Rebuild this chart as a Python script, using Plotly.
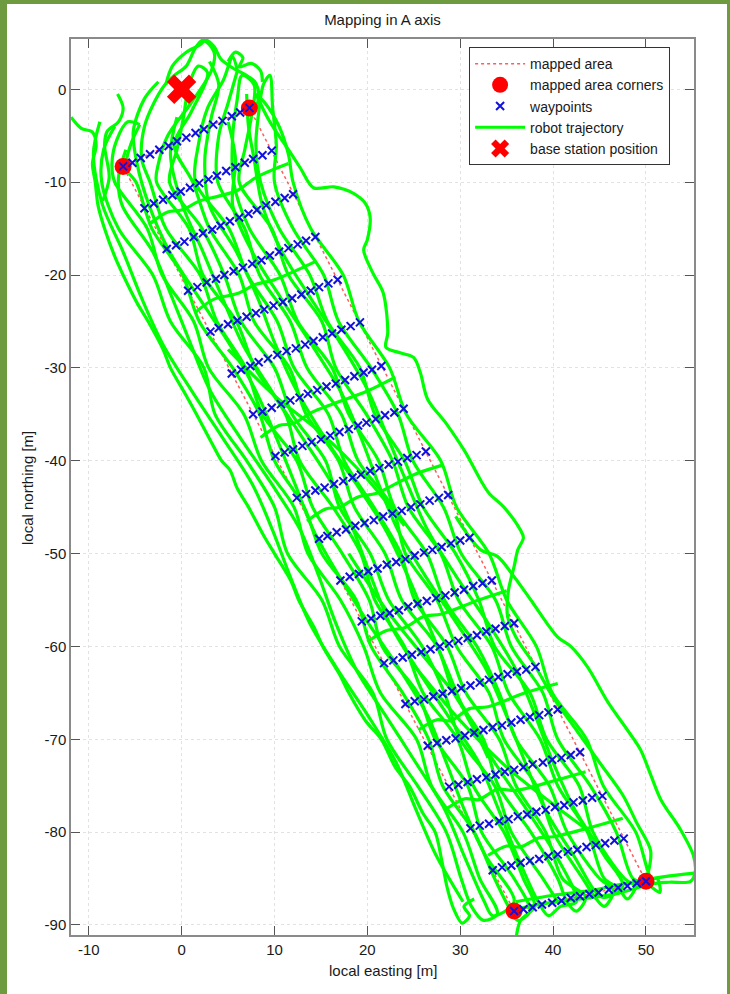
import plotly.graph_objects as go

TITLE = "Mapping in A axis"
X_LABEL = "local easting [m]"
Y_LABEL = "local northing [m]"
LEGEND_NAMES = ["mapped area", "mapped area corners", "waypoints",
                "robot trajectory", "base station position"]

x_tick_vals = [-10, 0, 10, 20, 30, 40, 50]
x_tick_text = ["-10", "0", "10", "20", "30", "40", "50"]
y_tick_vals = [0, -10, -20, -30, -40, -50, -60, -70, -80, -90]
y_tick_text = ["0", "-10", "-20", "-30", "-40", "-50", "-60", "-70", "-80", "-90"]

# mapped area corners (local easting, local northing)
corner_x = [-6.3, 7.3, 50.0, 35.8]
corner_y = [-8.3, -2.0, -85.3, -88.5]

# base station
base_x = [0.0]
base_y = [0.0]

# waypoints, one row per line
wp_rows_x = [
    [-6.3, -5.3, -4.4, -3.4, -2.4, -1.4, -0.5, 0.5, 1.5, 2.4, 3.4, 4.4, 5.4, 6.3, 7.3],
    [-4.0, -3.0, -2.0, -1.0, -0.1, 0.9, 1.9, 2.9, 3.8, 4.8, 5.8, 6.8, 7.7, 8.7, 9.7],
    [-1.6, -0.6, 0.3, 1.3, 2.3, 3.3, 4.2, 5.2, 6.2, 7.2, 8.1, 9.1, 10.1, 11.1, 12.0],
    [0.7, 1.7, 2.7, 3.7, 4.6, 5.6, 6.6, 7.6, 8.6, 9.5, 10.5, 11.5, 12.5, 13.4, 14.4],
    [3.1, 4.0, 5.0, 6.0, 7.0, 8.0, 8.9, 9.9, 10.9, 11.9, 12.9, 13.9, 14.8, 15.8, 16.8],
    [5.4, 6.4, 7.4, 8.3, 9.3, 10.3, 11.3, 12.3, 13.3, 14.2, 15.2, 16.2, 17.2, 18.2, 19.2],
    [7.7, 8.7, 9.7, 10.7, 11.7, 12.7, 13.6, 14.6, 15.6, 16.6, 17.6, 18.6, 19.6, 20.5, 21.5],
    [10.1, 11.1, 12.0, 13.0, 14.0, 15.0, 16.0, 17.0, 18.0, 19.0, 19.9, 20.9, 21.9, 22.9, 23.9],
    [12.4, 13.4, 14.4, 15.4, 16.4, 17.4, 18.4, 19.3, 20.3, 21.3, 22.3, 23.3, 24.3, 25.3, 26.3],
    [14.8, 15.7, 16.7, 17.7, 18.7, 19.7, 20.7, 21.7, 22.7, 23.7, 24.7, 25.7, 26.7, 27.7, 28.7],
    [17.1, 18.1, 19.1, 20.1, 21.1, 22.1, 23.1, 24.1, 25.1, 26.1, 27.0, 28.0, 29.0, 30.0, 31.0],
    [19.4, 20.4, 21.4, 22.4, 23.4, 24.4, 25.4, 26.4, 27.4, 28.4, 29.4, 30.4, 31.4, 32.4, 33.4],
    [21.8, 22.8, 23.8, 24.8, 25.8, 26.8, 27.8, 28.8, 29.8, 30.8, 31.8, 32.8, 33.8, 34.8, 35.8],
    [24.1, 25.1, 26.1, 27.1, 28.1, 29.1, 30.1, 31.1, 32.1, 33.1, 34.1, 35.1, 36.1, 37.1, 38.1],
    [26.5, 27.5, 28.5, 29.5, 30.5, 31.5, 32.5, 33.5, 34.5, 35.5, 36.5, 37.5, 38.5, 39.5, 40.5],
    [28.8, 29.8, 30.8, 31.8, 32.8, 33.8, 34.8, 35.8, 36.8, 37.8, 38.9, 39.9, 40.9, 41.9, 42.9],
    [31.1, 32.1, 33.1, 34.2, 35.2, 36.2, 37.2, 38.2, 39.2, 40.2, 41.2, 42.2, 43.2, 44.2, 45.3],
    [33.5, 34.5, 35.5, 36.5, 37.5, 38.5, 39.5, 40.5, 41.6, 42.6, 43.6, 44.6, 45.6, 46.6, 47.6],
    [35.8, 36.8, 37.8, 38.8, 39.9, 40.9, 41.9, 42.9, 43.9, 44.9, 46.0, 47.0, 48.0, 49.0, 50.0],
]
wp_rows_y = [
    [-8.3, -7.9, -7.4, -7.0, -6.5, -6.1, -5.6, -5.2, -4.7, -4.3, -3.8, -3.4, -2.9, -2.5, -2.0],
    [-12.8, -12.3, -11.9, -11.4, -11.0, -10.6, -10.1, -9.7, -9.3, -8.8, -8.4, -7.9, -7.5, -7.1, -6.6],
    [-17.2, -16.8, -16.4, -15.9, -15.5, -15.1, -14.7, -14.2, -13.8, -13.4, -13.0, -12.5, -12.1, -11.7, -11.3],
    [-21.7, -21.3, -20.8, -20.4, -20.0, -19.6, -19.2, -18.8, -18.4, -17.9, -17.5, -17.1, -16.7, -16.3, -15.9],
    [-26.1, -25.7, -25.3, -24.9, -24.5, -24.1, -23.7, -23.3, -22.9, -22.5, -22.1, -21.7, -21.3, -20.9, -20.5],
    [-30.6, -30.2, -29.8, -29.4, -29.0, -28.6, -28.2, -27.9, -27.5, -27.1, -26.7, -26.3, -25.9, -25.5, -25.1],
    [-35.0, -34.7, -34.3, -33.9, -33.5, -33.2, -32.8, -32.4, -32.0, -31.7, -31.3, -30.9, -30.5, -30.2, -29.8],
    [-39.5, -39.1, -38.8, -38.4, -38.0, -37.7, -37.3, -36.9, -36.6, -36.2, -35.9, -35.5, -35.1, -34.8, -34.4],
    [-44.0, -43.6, -43.2, -42.9, -42.5, -42.2, -41.8, -41.5, -41.1, -40.8, -40.4, -40.1, -39.7, -39.4, -39.0],
    [-48.4, -48.1, -47.7, -47.4, -47.0, -46.7, -46.4, -46.0, -45.7, -45.4, -45.0, -44.7, -44.3, -44.0, -43.7],
    [-52.9, -52.5, -52.2, -51.9, -51.6, -51.2, -50.9, -50.6, -50.2, -49.9, -49.6, -49.3, -48.9, -48.6, -48.3],
    [-57.3, -57.0, -56.7, -56.4, -56.1, -55.7, -55.4, -55.1, -54.8, -54.5, -54.2, -53.9, -53.5, -53.2, -52.9],
    [-61.8, -61.5, -61.2, -60.9, -60.6, -60.3, -60.0, -59.7, -59.4, -59.1, -58.8, -58.4, -58.1, -57.8, -57.5],
    [-66.2, -65.9, -65.7, -65.4, -65.1, -64.8, -64.5, -64.2, -63.9, -63.6, -63.3, -63.0, -62.7, -62.5, -62.2],
    [-70.7, -70.4, -70.1, -69.9, -69.6, -69.3, -69.0, -68.7, -68.5, -68.2, -67.9, -67.6, -67.4, -67.1, -66.8],
    [-75.1, -74.9, -74.6, -74.3, -74.1, -73.8, -73.5, -73.3, -73.0, -72.7, -72.5, -72.2, -72.0, -71.7, -71.4],
    [-79.6, -79.3, -79.1, -78.8, -78.6, -78.3, -78.1, -77.8, -77.6, -77.3, -77.1, -76.8, -76.6, -76.3, -76.1],
    [-84.1, -83.8, -83.6, -83.3, -83.1, -82.9, -82.6, -82.4, -82.1, -81.9, -81.6, -81.4, -81.2, -80.9, -80.7],
    [-88.5, -88.3, -88.1, -87.8, -87.6, -87.4, -87.1, -86.9, -86.7, -86.5, -86.2, -86.0, -85.8, -85.5, -85.3],
]

# robot trajectory pieces, (easting, northing) points
traj_west_edge = [(-11.9, -3.0), (-10.8, -4.2), (-9.6, -4.6), (-9.2, -6.0), (-9.6, -8.0), (-9.3, -10.0),
                  (-9.0, -12.5), (-8.3, -15.0), (-7.2, -18.0), (-6.3, -20.0), (-4.8, -23.0), (-3.6, -25.0),
                  (-2.0, -28.0), (-1.2, -30.0), (0.5, -33.0), (1.6, -35.0), (3.2, -38.0), (4.3, -40.0),
                  (5.2, -41.0), (6.0, -43.0), (7.2, -45.0), (8.8, -48.0), (10.0, -50.0), (11.8, -53.0),
                  (12.6, -55.0), (14.3, -58.0), (15.2, -60.0), (17.0, -63.0), (18.0, -65.0), (19.8, -68.0),
                  (21.5, -70.0), (23.0, -73.0), (24.5, -75.0), (26.0, -78.0), (27.3, -80.0), (28.0, -83.0),
                  (28.6, -86.0), (29.3, -88.3), (30.2, -89.8), (31.0, -89.0), (30.4, -88.0), (31.5, -87.2)]
traj_pass_a = [(-7.2, -4.0), (-8.4, -6.5), (-8.6, -10), (-6.8, -15), (-3.1, -20), (-1.2, -25), (2.4, -30),
               (3.6, -35), (7.0, -40), (10.0, -45), (11.4, -50), (15.1, -55), (17.0, -60), (20.6, -65),
               (22.1, -70), (25.4, -75), (28.5, -80), (30.1, -85), (31.2, -88.0), (32.5, -89.5), (34.0, -88.8),
               (32.1, -85), (30.3, -80), (26.9, -75), (25.3, -70), (21.4, -65), (19.6, -60), (17.1, -55),
               (13.6, -50), (12.1, -45), (8.6, -40), (6.7, -35), (2.9, -30), (1.3, -25), (-2.1, -20),
               (-3.7, -15), (-7.2, -10), (-7.5, -8.0), (-7.0, -5.5), (-5.8, -3.5), (-4.5, -3.8)]
traj_pass_b = [(-4.5, -3.8), (-5.5, -6.0), (-6.0, -8.5), (-4.9, -10), (-3.2, -15), (0.1, -20), (1.9, -25),
               (5.5, -30), (8.4, -35), (10.0, -40), (13.2, -45), (15.1, -50), (18.8, -55), (20.4, -60),
               (23.8, -65), (26.6, -70), (28.1, -75), (31.5, -80), (33.7, -85), (35.3, -88.2), (36.2, -89.5),
               (37.5, -88.5), (35.8, -85), (32.3, -80), (30.8, -75), (27.3, -70), (25.4, -65), (21.6, -60),
               (20.2, -55), (17.3, -50), (14.1, -45), (12.4, -40), (8.7, -35), (6.9, -30), (3.8, -25),
               (2.0, -20), (-1.7, -15), (-3.4, -10), (-4.3, -7.5), (-4.0, -4.0), (-3.0, -1.5), (-1.8, 0.5),
               (-0.8, 1.5), (0.5, 2.5), (1.5, 4.5), (2.3, 5.3), (3.5, 4.0), (3.2, 2.0), (1.0, -1.5),
               (-1.5, -5.0), (-2.5, -8.0), (-2.7, -10), (0.8, -15), (2.3, -20), (5.9, -25), (7.9, -30),
               (11.2, -35), (12.7, -40), (16.3, -45), (19.3, -50), (20.8, -55), (24.0, -60), (26.0, -65),
               (29.7, -70), (31.4, -75), (34.7, -80), (36.8, -85), (38.0, -88.0), (36.5, -89.5), (36.0, -91.5)]
traj_pass_c = [(40.5, -87.5), (38.9, -85), (35.5, -80), (33.7, -75), (30.0, -70), (28.3, -65), (25.9, -60),
               (22.3, -55), (20.3, -50), (17.0, -45), (15.5, -40), (11.9, -35), (10.0, -30), (6.4, -25),
               (4.6, -20), (2.2, -15), (-1.3, -10), (-0.5, -6.5), (0.2, -3.0), (0.8, 0.5), (1.8, 2.5),
               (2.8, 1.8), (1.0, -2.5), (-0.8, -6.0), (1.2, -10), (3.0, -15), (6.2, -20), (7.8, -25),
               (11.6, -30), (13.4, -35), (16.9, -40), (18.6, -45), (21.9, -50), (23.7, -55), (27.5, -60),
               (29.3, -65), (32.5, -70), (34.1, -75), (37.6, -80), (40.5, -85), (41.5, -87.5), (42.5, -88.5),
               (43.5, -87.0), (41.0, -85), (39.2, -80), (36.0, -75), (34.2, -70), (30.6, -65), (28.6, -60),
               (25.1, -55), (23.6, -50), (20.7, -45), (17.5, -40), (15.8, -35), (12.1, -30), (10.3, -25),
               (7.1, -20), (5.1, -15), (1.5, -10), (1.8, -6.0), (2.8, -2.0), (4.5, 1.0), (5.5, 3.5), (6.0, 2.0)]
traj_pass_d = [(6.0, 2.0), (5.0, -1.5), (4.0, -5.0), (3.9, -10), (6.8, -15), (8.4, -20), (11.7, -25),
               (13.5, -30), (17.2, -35), (19.0, -40), (22.7, -45), (24.1, -50), (27.5, -55), (29.6, -60),
               (33.1, -65), (34.7, -70), (38.2, -75), (40.0, -80), (43.2, -85), (44.5, -87.0), (45.5, -88.0),
               (46.5, -86.3), (45.0, -85), (41.5, -80), (39.6, -75), (36.0, -70), (34.2, -65), (31.8, -60),
               (28.3, -55), (26.4, -50), (22.9, -45), (21.2, -40), (18.0, -35), (16.2, -30), (12.5, -25),
               (10.6, -20), (7.3, -15), (5.6, -10), (5.5, -5.0), (6.0, -1.0), (6.5, 1.5), (7.8, 0.5),
               (7.5, -3.0), (6.8, -6.5), (6.2, -10), (9.7, -15), (11.5, -20), (15.1, -25), (16.6, -30),
               (19.9, -35), (22.7, -40), (24.4, -45), (27.9, -50), (29.8, -55), (33.4, -60), (35.2, -65),
               (38.6, -70), (40.5, -75), (43.7, -80), (45.5, -85), (47.0, -86.0), (48.0, -87.2), (49.0, -85.8)]
traj_pass_e = [(49.0, -85.8), (47.7, -85), (44.3, -80), (42.8, -75), (39.3, -70), (37.5, -65), (33.7, -60),
               (32.0, -55), (29.5, -50), (26.0, -45), (24.0, -40), (20.8, -35), (19.2, -30), (15.7, -25),
               (13.8, -20), (10.5, -15), (8.5, -10), (8.0, -6.0), (8.3, -2.5), (8.8, 0.5), (9.5, 1.5),
               (9.8, -2.0), (10.2, -6.0), (10.0, -10), (12.0, -15), (15.3, -20), (16.9, -25), (20.4, -30),
               (23.3, -35), (24.9, -40), (28.2, -45), (30.1, -50), (33.8, -55), (35.5, -60), (38.9, -65),
               (40.5, -70), (44.0, -75), (46.8, -80), (48.6, -85), (50.0, -85.5), (51.5, -86.5), (51.2, -85.0),
               (50.6, -85), (48.9, -80), (45.4, -75), (43.6, -70), (39.9, -65), (38.2, -60), (35.0, -55),
               (33.1, -50), (29.6, -45), (27.9, -40), (24.2, -35), (22.4, -30), (19.1, -25), (17.4, -20),
               (13.9, -15), (12.0, -10), (11.5, -7.0), (10.5, -4.0), (9.0, -1.5), (8.0, -0.5)]
traj_pass_f = [(-8.8, -3.5), (-9.5, -7.0), (-8.5, -12.5), (-6.3, -17.5), (-4.3, -22.5), (-2.0, -27.5),
               (1.1, -32.5), (4.4, -37.5), (7.6, -42.5), (9.8, -47.5), (11.7, -52.5), (13.8, -57.5),
               (16.8, -62.5), (20.1, -67.5), (23.1, -72.5), (25.2, -77.5), (27.4, -82.5), (30.3, -87.5)]
traj_pass_g = [(-6.0, -6.5), (-6.8, -9.5), (-6.4, -12.5), (-3.1, -17.5), (-1.0, -22.5), (1.0, -27.5),
               (3.1, -32.5), (6.3, -37.5), (9.7, -42.5), (12.8, -47.5), (14.8, -52.5), (16.6, -57.5),
               (18.8, -62.5), (22.0, -67.5), (25.2, -72.5), (28.3, -77.5), (30.4, -82.5), (32.6, -87.5),
               (33.5, -89.0), (35.8, -87.5), (32.7, -82.5), (30.4, -77.5), (28.5, -72.5), (26.5, -67.5),
               (23.5, -62.5), (20.1, -57.5), (17.0, -52.5), (14.2, -47.5), (12.2, -42.5), (10.2, -37.5),
               (8.0, -32.5), (5.2, -27.5), (1.9, -22.5), (-1.3, -17.5), (-3.5, -12.5), (-4.8, -8.0),
               (-5.2, -4.5), (-4.0, -1.0), (-2.5, 0.8)]
traj_pass_h = [(-0.5, -3.0), (-1.2, -7.0), (0.1, -12.5), (2.3, -17.5), (4.4, -22.5), (6.6, -27.5),
               (9.7, -32.5), (13.0, -37.5), (16.2, -42.5), (18.5, -47.5), (20.4, -52.5), (22.4, -57.5),
               (25.4, -62.5), (28.7, -67.5), (32.0, -72.5), (34.1, -77.5), (36.1, -82.5), (38.4, -87.5),
               (39.5, -89.0), (40.8, -88.0), (42.5, -87.5), (40.3, -82.5), (37.1, -77.5), (33.7, -72.5),
               (30.7, -67.5), (28.6, -62.5), (26.5, -57.5), (24.4, -52.5), (22.0, -47.5), (18.8, -42.5),
               (15.4, -37.5), (12.4, -32.5), (10.1, -27.5), (8.2, -22.5), (5.9, -17.5), (3.0, -12.5),
               (2.5, -7.5), (3.2, -3.0), (4.0, 0.5), (3.0, 3.0)]
traj_pass_i = [(5.0, -3.5), (5.8, -7.5), (5.5, -12.5), (7.6, -17.5), (10.7, -22.5), (14.0, -27.5),
               (17.1, -32.5), (19.3, -37.5), (21.2, -42.5), (23.3, -47.5), (26.3, -52.5), (29.6, -57.5),
               (32.8, -62.5), (35.0, -67.5), (37.0, -72.5), (39.1, -77.5), (42.2, -82.5), (45.3, -87.0),
               (47.5, -85.8), (45.5, -82.5), (42.3, -77.5), (40.0, -72.5), (38.1, -67.5), (36.0, -62.5),
               (33.0, -57.5), (29.6, -52.5), (26.5, -47.5), (24.3, -42.5), (22.2, -37.5), (20.1, -32.5),
               (17.2, -27.5), (13.9, -22.5), (10.8, -17.5), (8.7, -12.5), (7.8, -7.5), (7.2, -4.0), (7.0, -0.5)]
traj_east_loop = [(8.0, -0.5), (9.5, -3.5), (11.5, -6.5), (12.8, -8.5), (14.2, -10.6), (16.4, -10.5),
                  (18.5, -11.2), (19.8, -12.3), (20.3, -13.8), (20.0, -16.2), (19.6, -17.3), (20.6, -19.8),
                  (21.7, -21.9), (22.2, -26.2), (22.0, -27.8), (23.6, -28.4), (25.0, -28.9), (25.7, -30.5),
                  (26.5, -33.4), (28.5, -36.0), (30.5, -39.0), (32.2, -42.1), (33.1, -43.5), (34.7, -45.0),
                  (36.5, -47.5), (36.8, -48.3), (36.2, -49.6), (35.8, -51.4), (35.2, -53.9), (35.1, -56.8),
                  (36.0, -59.0), (38.0, -62.0), (40.0, -65.5), (42.5, -69.0), (45.0, -72.5), (47.5, -76.0),
                  (49.0, -79.0), (50.5, -82.0), (50.2, -84.5)]
traj_east_outer = [(29.5, -46.0), (32.2, -49.6), (34.0, -50.3), (35.8, -52.5), (37.6, -55.0), (40.5, -59.0),
                   (41.9, -60.0), (43.7, -62.2), (45.9, -66.0), (48.0, -69.0), (49.4, -71.1), (50.5, -73.8),
                   (51.6, -76.5), (53.7, -79.7), (55.1, -82.5), (55.3, -84.3), (54.8, -85.3), (52.5, -85.4),
                   (50.5, -85.6), (47.0, -86.6), (43.0, -87.2), (39.0, -87.7), (36.5, -88.2)]
traj_top_west = [(-6.9, -0.5), (-6.3, -2.0), (-6.8, -3.5), (-8.0, -4.5), (-8.3, -6.0), (-7.8, -9.5), (-8.5, -12.0)]
traj_top_blob = [(-1.7, 0.5), (-1.0, 2.5), (0.5, 4.0), (2.0, 4.8), (2.6, 5.3), (3.5, 4.6), (4.2, 3.3),
                 (5.5, 2.3), (6.8, 1.6), (7.9, 0.8), (8.3, -0.8), (7.8, -2.5)]
traj_top_loop = [(5.0, 3.0), (5.8, 4.0), (6.6, 3.4), (6.2, 2.4), (7.5, 2.8), (8.5, 2.0), (8.7, 0.8)]
traj_cross_1 = [(-3.5, -14.5), (-1.5, -13.2), (0.0, -13.0), (2.0, -12.0), (4.0, -11.5), (6.0, -10.9), (8.0, -9.5), (11.5, -8.0)]
traj_cross_2 = [(1.5, -24.0), (3.5, -22.6), (6.0, -22.0), (8.0, -21.0), (10.0, -20.5), (14.5, -18.5)]
traj_cross_3 = [(8.5, -37.5), (10.5, -36.2), (12.0, -36.0), (14.0, -34.8), (16.0, -34.0), (20.0, -32.5), (23.0, -31.0)]
traj_cross_4 = [(13.5, -46.5), (15.5, -45.2), (17.0, -45.0), (19.0, -43.9), (21.0, -43.5), (25.0, -41.5), (28.0, -40.5)]
traj_cross_5 = [(20.0, -59.5), (22.0, -58.3), (24.0, -58.0), (26.0, -56.8), (28.0, -56.5), (32.0, -55.0), (35.0, -54.0)]
traj_cross_6 = [(25.5, -69.0), (27.5, -67.9), (29.0, -68.0), (31.0, -66.7), (33.0, -66.5), (37.0, -65.0), (40.5, -64.0)]
traj_cross_7 = [(28.5, -77.5), (30.5, -76.4), (32.0, -76.5), (34.0, -75.4), (36.0, -75.5), (40.0, -74.5), (43.5, -73.5)]
traj_cross_8 = [(33.0, -82.5), (35.0, -81.5), (36.5, -81.6), (38.5, -80.6), (40.0, -80.5), (44.0, -79.5), (47.5, -78.5)]
traj_cross_9 = [(36.0, -87.5), (40.0, -86.8), (44.0, -86.3), (48.0, -85.5), (52.0, -84.8), (55.3, -84.4)]
traj_diag_1 = [(5.0, -28.0), (10.0, -33.0), (15.0, -37.0), (20.0, -42.0), (24.0, -47.0)]
traj_diag_2 = [(18.0, -50.0), (22.0, -56.0), (26.0, -61.0), (30.0, -66.0), (33.0, -72.0)]
traj_diag_3 = [(25.0, -62.0), (30.0, -68.0), (35.0, -73.0), (40.0, -77.0), (44.0, -80.0)]

trajectory_pieces = [traj_west_edge, traj_pass_a, traj_pass_b, traj_pass_c, traj_pass_d, traj_pass_e,
                     traj_pass_f, traj_pass_g, traj_pass_h, traj_pass_i,
                     traj_east_loop, traj_east_outer, traj_top_west, traj_top_blob, traj_top_loop,
                     traj_cross_1, traj_cross_2, traj_cross_3, traj_cross_4, traj_cross_5, traj_cross_6,
                     traj_cross_7, traj_cross_8, traj_cross_9, traj_diag_1, traj_diag_2, traj_diag_3]

# ---- build plot inputs ----
traj_x, traj_y = [], []
for piece in trajectory_pieces:
    traj_x += [p[0] for p in piece] + [None]
    traj_y += [p[1] for p in piece] + [None]

waypoint_x = [v for row in wp_rows_x for v in row]
waypoint_y = [v for row in wp_rows_y for v in row]

area_x = corner_x + [corner_x[0]]
area_y = corner_y + [corner_y[0]]

fig = go.Figure()
fig.add_trace(go.Scatter(x=area_x, y=area_y, mode="lines", name=LEGEND_NAMES[0], legendrank=1,
                         line=dict(color="#ff5c5c", width=1.5, dash="dot")))
fig.add_trace(go.Scatter(x=traj_x, y=traj_y, mode="lines", name=LEGEND_NAMES[3], legendrank=4,
                         line=dict(color="#00ff00", width=3.2, shape="spline", smoothing=0.9),
                         connectgaps=False))
fig.add_trace(go.Scatter(x=corner_x, y=corner_y, mode="markers", name=LEGEND_NAMES[1], legendrank=2,
                         marker=dict(symbol="circle", size=17, color="#ff0000")))
fig.add_trace(go.Scatter(x=waypoint_x, y=waypoint_y, mode="markers", name=LEGEND_NAMES[2], legendrank=3,
                         marker=dict(symbol="x-thin", size=8, color="#1010e0",
                                     line=dict(color="#1010e0", width=2))))
fig.add_trace(go.Scatter(x=base_x, y=base_y, mode="markers", name=LEGEND_NAMES[4], legendrank=5,
                         marker=dict(symbol="x", size=26, color="#ff0000")))

axis_common = dict(ticks="inside", ticklen=9, tickwidth=1, tickcolor="#555555",
                   showline=True, linecolor="#8a8a8a", linewidth=1.5, mirror="ticks",
                   showgrid=True, gridcolor="#e2e2e2", gridwidth=1, griddash="dot",
                   zeroline=False, tickfont=dict(size=15, color="#1a1a1a"))

fig.update_layout(
    width=730, height=994, autosize=False,
    margin=dict(l=71, r=36, t=39, b=59, pad=0),
    paper_bgcolor="#6e9a40", plot_bgcolor="white",
    font=dict(family="Liberation Sans, Arial, sans-serif", size=15, color="#1a1a1a"),
    title=dict(text=TITLE, x=0.5, xref="paper", xanchor="center",
               y=1 - 20 / 994, yref="container", yanchor="middle",
               font=dict(size=15, color="#1a1a1a")),
    xaxis=dict(range=[-11.91, 55.17], tickvals=x_tick_vals, ticktext=x_tick_text, **axis_common),
    yaxis=dict(range=[-91.08, 5.42], tickvals=y_tick_vals, ticktext=y_tick_text, **axis_common),
    showlegend=True,
    legend=dict(x=0.639, y=0.991, xanchor="left", yanchor="top", bgcolor="white",
                bordercolor="#333333", borderwidth=1, font=dict(size=14, color="#1a1a1a"),
                itemwidth=50, tracegroupgap=0),
    shapes=[dict(type="rect", xref="paper", yref="paper", x0=-0.1027, x1=1.0530, y0=-0.09, y1=1.0391,
                 fillcolor="white", line=dict(width=0), layer="below")],
    annotations=[
        dict(text=X_LABEL, xref="paper", yref="paper", x=0.5, y=(935 - 970) / 896,
             xanchor="center", yanchor="middle", showarrow=False, font=dict(size=15)),
        dict(text=Y_LABEL, xref="paper", yref="paper", x=(27 - 71) / 623, y=(935 - 488) / 896,
             xanchor="center", yanchor="middle", showarrow=False, textangle=-90, font=dict(size=15)),
    ],
)

fig.write_html("out.html")
